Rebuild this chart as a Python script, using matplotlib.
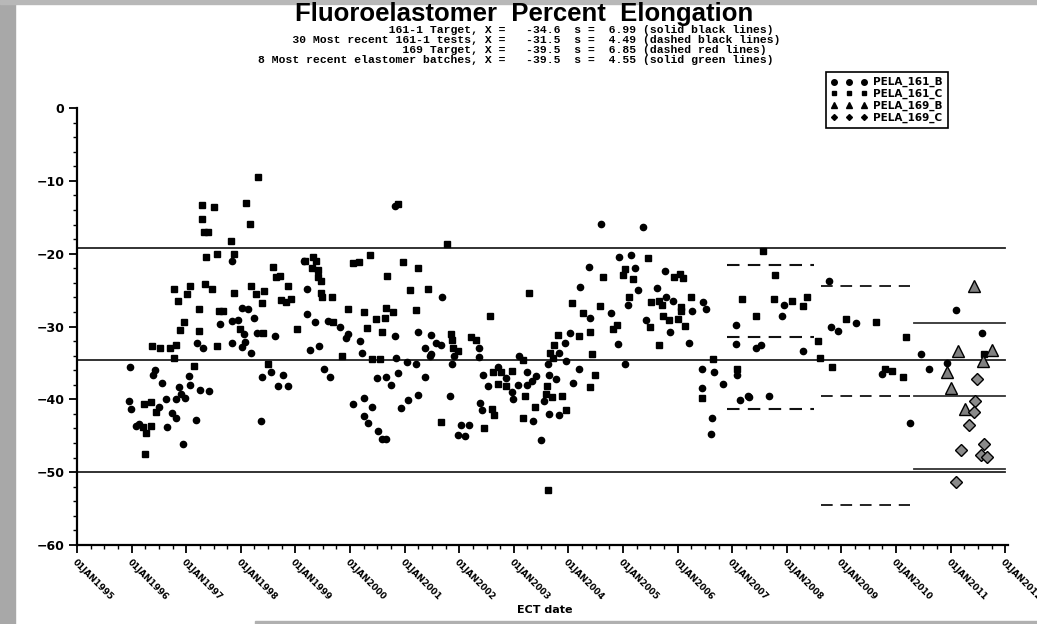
import numpy as np
import matplotlib
matplotlib.use("Agg")
import matplotlib.pyplot as plt
from matplotlib.lines import Line2D
from matplotlib.patches import Rectangle
from matplotlib.ticker import MultipleLocator

# ---- data (dates as decimal years) ----
b161_year = [1997.84, 1999.15, 1999.21, 1998.02, 1998.13, 1998.24, 1999.21, 1997.62, 1997.84, 1997.95,
             1998.05, 1998.29, 1998.63, 1997.19, 1997.31, 1997.84, 1998.07, 1998.02, 1998.18, 1999.26,
             1995.97, 1996.43, 1996.40, 1998.56, 1998.38, 1998.77, 1997.05, 1996.55, 1997.07, 1998.68,
             1998.87, 1996.86, 1997.26, 1997.41, 1996.90, 1996.98, 1996.82, 1996.63, 1995.96, 1995.99,
             1996.50, 1996.74, 1996.81, 1997.18, 1996.08, 1996.13, 1996.65, 1998.37, 1996.94,
             2000.83, 2001.68, 1999.36, 1999.60, 1999.82, 1999.97, 1999.92, 2000.19, 2000.83, 2001.25,
             2001.49, 2001.57, 2001.67, 2002.36, 1999.44, 2001.37, 2001.46, 2001.49, 2001.91, 2002.37,
             2000.21, 2000.85, 2003.10, 2003.63, 2001.04, 2001.20, 2001.87, 1999.53, 1999.64, 2000.88,
             2000.50, 2000.66, 2000.75, 2001.37, 2000.06, 2000.26, 2000.40, 2000.25, 2000.33, 2000.52,
             2000.58, 2000.65, 2000.94, 2001.06, 2001.24, 2001.83, 2002.04, 2002.18, 2001.98, 2002.10,
             2002.44, 2002.71, 2002.86, 2002.52, 2003.07, 2002.97, 2002.98, 2003.25, 2003.41, 2003.33,
             2003.24, 2002.38, 2002.41, 2003.56, 2003.36, 2003.49, 2003.65, 2003.77, 2003.64,
             2004.60, 2005.36, 2004.92, 2005.15, 2004.37, 2005.22, 2005.27, 2004.22, 2005.77, 2005.62,
             2005.09, 2004.78, 2005.78, 2005.92, 2006.27, 2006.46, 2006.52, 2004.40, 2004.03, 2003.93,
             2004.90, 2003.83, 2003.95, 2005.04, 2005.42, 2005.86, 2006.20, 2004.19, 2004.08, 2003.82,
             2006.44, 2006.67, 2006.83, 2006.44, 2006.63, 2006.62, 2007.07, 2007.06, 2007.09, 2007.14,
             2007.28, 2007.31, 2007.43, 2007.53, 2007.68, 2007.95, 2007.91, 2008.29,
             2008.77, 2008.80, 2008.93, 2009.27, 2009.74, 2010.45, 2010.61, 2010.26, 2011.09, 2011.58,
             2010.93]
b161_pela = [-21.0, -21.0, -24.8, -27.5, -27.6, -28.8, -28.3, -29.7, -29.3, -29.1,
             -31.0, -30.9, -31.3, -32.3, -32.9, -32.2, -32.1, -32.8, -33.6, -33.2,
             -35.5, -36.0, -36.7, -36.3, -36.9, -36.6, -36.8, -37.8, -38.0, -38.2,
             -38.1, -38.3, -38.7, -38.9, -39.3, -39.8, -40.0, -39.9, -40.2, -41.3,
             -41.0, -41.9, -42.5, -42.8, -43.7, -43.4, -43.8, -43.0, -46.1,
             -13.4, -26.0, -29.4, -29.2, -30.0, -31.0, -31.6, -32.0, -31.3, -30.7,
             -31.1, -32.2, -32.5, -32.9, -32.7, -33.0, -34.0, -33.8, -34.0, -34.2,
             -33.6, -34.3, -34.1, -35.1, -34.9, -35.2, -35.2, -35.9, -37.0, -36.4,
             -37.1, -37.0, -38.0, -37.0, -40.7, -39.8, -41.0, -42.3, -43.2, -44.3,
             -45.5, -45.5, -41.2, -40.1, -39.4, -39.5, -43.5, -43.5, -44.9, -45.0,
             -36.6, -35.6, -37.1, -38.1, -38.0, -39.0, -40.0, -36.3, -36.8, -37.5,
             -38.0, -40.5, -41.4, -40.2, -43.0, -45.6, -36.6, -37.2, -42.0,
             -15.9, -16.4, -20.4, -20.2, -21.8, -21.9, -25.0, -24.6, -22.4, -24.7,
             -27.0, -28.1, -25.9, -26.5, -27.9, -26.7, -27.6, -28.8, -30.9, -32.3,
             -32.4, -33.7, -34.7, -35.1, -29.1, -30.8, -32.3, -35.9, -37.8, -42.2,
             -35.8, -36.3, -37.9, -38.4, -42.5, -44.7, -29.8, -32.4, -36.6, -40.1,
             -39.6, -39.7, -32.9, -32.5, -39.6, -27.0, -28.5, -33.4,
             -23.7, -30.0, -30.6, -29.5, -36.5, -33.8, -35.9, -43.2, -27.8, -30.9,
             -35.0]

c161_year = [1998.32, 1997.29, 1997.51, 1998.10, 1997.28, 1998.16, 1997.33, 1997.40, 1997.82, 1997.37,
             1997.57, 1997.88, 1998.58, 1998.65, 1998.71, 1998.86, 1996.78, 1997.06, 1997.35, 1997.48,
             1997.01, 1996.85, 1997.87, 1998.18, 1998.27, 1998.43, 1998.38, 1998.73, 1998.83, 1998.92,
             1997.24, 1997.60, 1997.67, 1996.95, 1996.88, 1997.24, 1997.99, 1998.41, 1999.03, 1996.38,
             1996.52, 1996.70, 1996.82, 1996.77, 1997.57, 1997.14, 1998.49, 1996.22, 1996.36, 1996.45,
             1996.21, 1996.36, 1996.26, 1996.25,
             2000.87, 2001.78, 1999.33, 1999.18, 1999.38, 1999.30, 1999.42, 1999.41, 1999.47, 2000.05,
             2000.16, 2000.36, 2000.97, 2001.25, 2000.68, 1999.47, 1999.49, 1999.67, 2001.09, 2001.42,
             2003.27, 1999.96, 2000.25, 2000.65, 2000.79, 2000.47, 2000.64, 2001.21, 2002.56, 1999.69,
             2000.31, 2000.59, 2001.85, 2001.87, 2002.22, 2002.31, 2001.88, 2001.98, 1999.86, 2000.41,
             2000.55, 2003.16, 2003.74, 2003.67, 2003.72, 2004.20, 2001.67, 2002.46, 2003.63, 2002.61,
             2002.77, 2002.97, 2002.71, 2002.85, 2003.21, 2002.60, 2002.63, 2003.39, 2003.17, 2003.61,
             2003.58, 2003.70,
             2005.45, 2005.04, 2005.00, 2004.63, 2005.19, 2005.94, 2006.04, 2006.10, 2005.11, 2004.06,
             2004.57, 2005.51, 2005.66, 2005.71, 2006.24, 2006.07, 2006.07, 2004.26, 2004.40, 2003.81,
             2004.81, 2004.89, 2004.43, 2005.74, 2005.85, 2006.01, 2006.13, 2005.50, 2005.65, 2004.49,
             2004.40, 2003.88, 2003.96, 2006.64, 2006.45, 2007.18, 2007.09, 2007.44, 2007.57, 2007.78,
             2007.76, 2008.10, 2008.30,
             2008.37, 2009.09, 2009.63, 2008.57, 2008.61, 2008.83, 2009.79, 2009.93, 2010.12, 2010.18,
             2011.62]
c161_pela = [-9.5, -13.3, -13.6, -13.1, -15.2, -15.9, -17.0, -17.0, -18.2, -20.4,
             -20.0, -20.0, -21.8, -23.2, -23.0, -24.4, -24.8, -24.4, -24.1, -24.9,
             -25.6, -26.5, -25.4, -24.4, -25.5, -25.1, -26.8, -26.4, -26.6, -26.2,
             -27.6, -27.9, -27.9, -29.4, -30.5, -30.6, -30.3, -30.9, -30.3, -32.7,
             -33.0, -32.9, -32.6, -34.3, -32.7, -35.4, -35.2, -40.6, -40.3, -41.7,
             -43.8, -43.6, -44.6, -47.5,
             -13.2, -18.7, -20.5, -21.0, -21.0, -22.0, -22.3, -23.2, -23.7, -21.3,
             -21.1, -20.2, -21.2, -22.0, -23.1, -25.4, -25.9, -26.0, -25.0, -24.8,
             -25.4, -27.6, -28.0, -27.5, -28.0, -29.0, -28.9, -27.8, -28.5, -29.4,
             -30.2, -30.8, -31.0, -31.9, -31.4, -31.8, -32.9, -33.3, -34.1, -34.4,
             -34.4, -34.6, -32.6, -33.7, -34.3, -31.3, -43.1, -44.0, -52.4, -36.3,
             -36.3, -36.1, -37.9, -38.2, -39.5, -41.3, -42.2, -41.0, -42.6, -38.1,
             -39.2, -39.7,
             -20.6, -22.1, -22.9, -23.2, -23.5, -23.2, -22.8, -23.4, -25.9, -26.8,
             -27.2, -26.7, -26.5, -27.1, -26.0, -27.3, -27.9, -28.1, -30.7, -31.2,
             -30.3, -29.8, -33.8, -28.5, -29.1, -29.0, -29.9, -30.0, -32.5, -36.7,
             -38.3, -39.5, -41.4, -34.4, -39.8, -26.2, -35.8, -28.6, -19.7, -22.9,
             -26.2, -26.5, -27.2,
             -25.9, -29.0, -29.4, -32.0, -34.3, -35.6, -35.9, -36.1, -36.9, -31.4,
             -33.8]

b169_year = [2011.43, 2011.14, 2011.75, 2010.93, 2011.01, 2011.60, 2011.26]
b169_pela = [-24.4, -33.4, -33.2, -36.3, -38.4, -34.8, -41.3]

c169_year = [2011.49, 2011.44, 2011.42, 2011.33, 2011.19, 2011.61, 2011.56, 2011.67, 2011.10]
c169_pela = [-37.2, -40.2, -41.8, -43.5, -47.0, -46.2, -47.6, -47.9, -51.3]

# summary statistics printed in the subtitle
stat_labels = ["161-1 Target", "30 Most recent 161-1 tests", "169 Target",
               "8 Most recent elastomer batches"]
stat_mean = [-34.6, -31.5, -39.5, -39.5]
stat_sd = [6.99, 4.49, 6.85, 4.55]
stat_desc = ["solid black lines", "dashed black lines", "dashed red lines", "solid green lines"]
limit_k = 2.2
# x extents (decimal years) of each group of reference lines
line_span = [(1995.0, 2012.0), (2006.9, 2008.5), (2008.62, 2010.25), (2010.32, 2012.0)]

years = list(range(1995, 2013))
tick_labels = ["01JAN%d" % y for y in years]

fig = plt.figure(figsize=(10.37, 6.24), dpi=100)
ax = fig.add_axes([0.0743, 0.1266, 0.8977, 0.7003])

# reference lines: mean and mean +/- k*s
styles = [("-", "#222222", 1.3), ("--", "#111111", 1.5), ("--", "#222222", 1.4), ("-", "#333333", 1.3)]
for (x0, x1), m, s, (ls, col, lw) in zip(line_span, stat_mean, stat_sd, styles):
    for v in (m + limit_k * s, m, m - limit_k * s):
        ax.plot([x0, x1], [v, v], linestyle=ls, color=col, linewidth=lw,
                dashes=(6, 4) if ls == "--" else (None, None), zorder=1)

ax.plot(b161_year, b161_pela, "o", color="black", markersize=4.5, linestyle="none", zorder=3)
ax.plot(c161_year, c161_pela, "s", color="black", markersize=3.8, linestyle="none", zorder=3)
ax.plot(b169_year, b169_pela, "^", markerfacecolor="#808080", markeredgecolor="black",
        markeredgewidth=1.0, markersize=9, linestyle="none", zorder=4)
ax.plot(c169_year, c169_pela, "D", markerfacecolor="#8a8a8a", markeredgecolor="black",
        markeredgewidth=1.0, markersize=6.5, linestyle="none", zorder=4)

ax.set_xlim(1995, 2012.05)
ax.set_ylim(-60, 0)
ax.set_xticks(years)
ax.set_xticklabels(tick_labels, rotation=-45, ha="left", va="top", rotation_mode="anchor",
                   fontsize=6.3, fontweight="bold")
ax.xaxis.set_minor_locator(MultipleLocator(0.25))
ax.set_yticks(np.arange(-60, 1, 10))
ax.yaxis.set_minor_locator(MultipleLocator(2))
for lbl in ax.get_yticklabels():
    lbl.set_fontweight("bold")
    lbl.set_fontsize(9)
ax.tick_params(which="major", direction="out", length=6, width=1.3, pad=3)
ax.tick_params(which="minor", direction="out", length=3, width=1.0)
for side in ("top", "right"):
    ax.spines[side].set_visible(False)
for side in ("left", "bottom"):
    ax.spines[side].set_linewidth(1.6)

ax.set_ylabel("PELA", fontsize=8, fontweight="bold", labelpad=14)
fig.text(545 / 1037, 1 - 610 / 624, "ECT date", ha="center", va="center",
         fontsize=8, fontweight="bold")

# title + statistics
fig.text(0.505, 0.977, "Fluoroelastomer  Percent  Elongation", ha="center", va="center",
         fontsize=18.5, fontweight="bold", family="Liberation Sans")
for i, (lab, m, s, d) in enumerate(zip(stat_labels, stat_mean, stat_sd, stat_desc)):
    line = "%s, X =   %5.1f  s =  %4.2f (%s)" % (lab.rjust(31), m, s, d)
    fig.text(258 / 1037, 1 - (30 + 10 * i) / 624, line, ha="left", va="center",
             fontsize=8.2, family="Liberation Mono", fontweight="bold")

# legend
handles = [Line2D([], [], marker="o", color="black", linestyle="none", markersize=4),
           Line2D([], [], marker="s", color="black", linestyle="none", markersize=3.5),
           Line2D([], [], marker="^", color="black", linestyle="none", markersize=4),
           Line2D([], [], marker="D", color="black", linestyle="none", markersize=3)]
leg = fig.legend(handles, ["PELA_161_B", "PELA_161_C", "PELA_169_B", "PELA_169_C"],
                 loc="upper left", bbox_to_anchor=(826 / 1037, 1 - 72 / 624), numpoints=3,
                 prop=dict(weight="bold", size=7.5), fancybox=False, edgecolor="black",
                 framealpha=1, handlelength=3.4, handletextpad=0.6, labelspacing=0.15,
                 borderpad=0.5, borderaxespad=0)
leg.get_frame().set_linewidth(1.2)

# grey scanner margins
fig.patches.append(Rectangle((0, 0), 15 / 1037, 1, transform=fig.transFigure,
                             color="#a8a8a8", zorder=0))
fig.patches.append(Rectangle((0, 1 - 4 / 624), 1, 4 / 624, transform=fig.transFigure,
                             color="#b8b8b8", zorder=0))
fig.patches.append(Rectangle((255 / 1037, 0), 1, 3 / 624, transform=fig.transFigure,
                             color="#b0b0b0", zorder=0))

fig.savefig("out.png", dpi=100)
